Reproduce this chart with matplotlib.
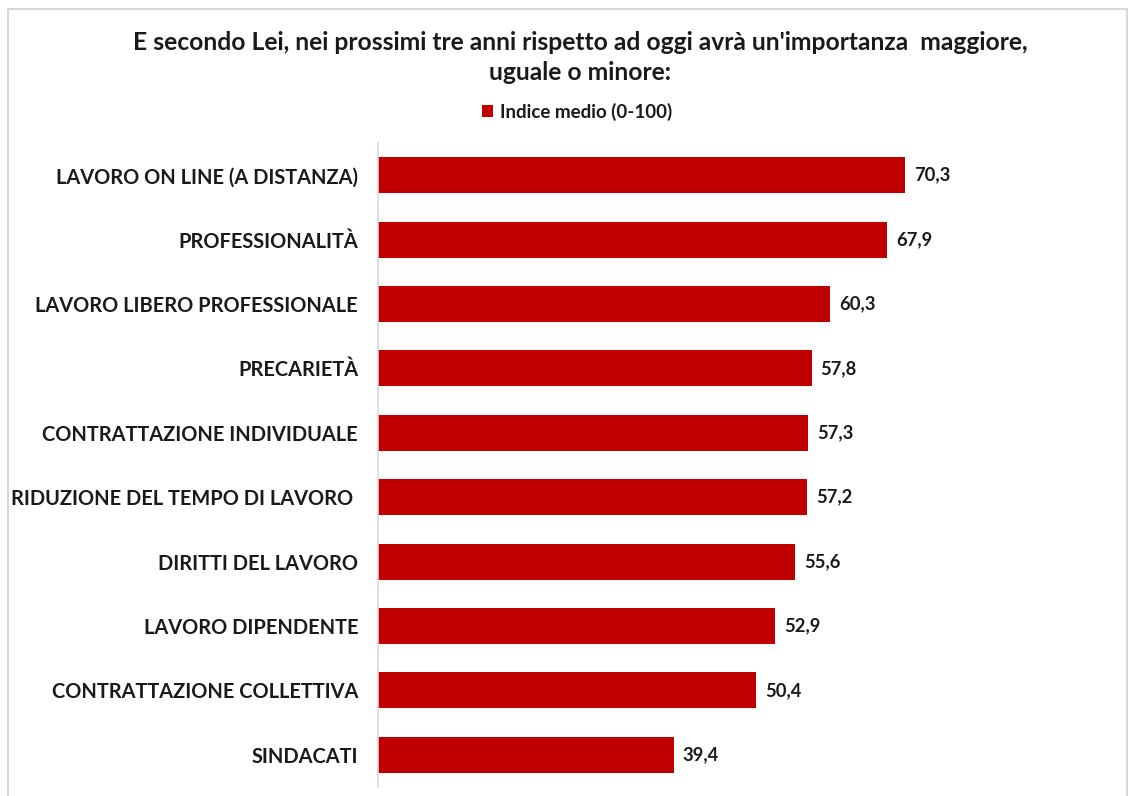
import matplotlib
matplotlib.use("Agg")
import matplotlib.pyplot as plt
from matplotlib.patches import Rectangle

# Categories, top to bottom as shown
categories = [
    "LAVORO ON LINE (A DISTANZA)",
    "PROFESSIONALITÀ",
    "LAVORO LIBERO PROFESSIONALE",
    "PRECARIETÀ",
    "CONTRATTAZIONE INDIVIDUALE",
    "RIDUZIONE DEL TEMPO DI LAVORO ",
    "DIRITTI DEL LAVORO",
    "LAVORO DIPENDENTE",
    "CONTRATTAZIONE COLLETTIVA",
    "SINDACATI",
]
indice_medio = [70.3, 67.9, 60.3, 57.8, 57.3, 57.2, 55.6, 52.9, 50.4, 39.4]

title = "E secondo Lei, nei prossimi tre anni rispetto ad oggi avrà un'importanza  maggiore,\nuguale o minore:"
legend_label = "Indice medio (0-100)"

bar_color = "#C00000"
text_color = "#1a1a1a"

plt.rcParams['font.family'] = ['Lato', 'DejaVu Sans']

fig = plt.figure(figsize=(11.31, 7.96), dpi=100)
W, H = 1131, 796

# thin frame around the chart area
fig.patches.append(Rectangle((8 / W, -0.05), (1127 - 8) / W, 1.05 - 9 / H,
                             transform=fig.transFigure, fill=False,
                             edgecolor="#d0d0d0", linewidth=1.2))

ax = fig.add_axes([378 / W, 1 - 787 / H, 744 / W, (787 - 143) / H])
pos = list(range(len(categories)))
bars = ax.barh(pos, indice_medio, height=0.56, color=bar_color, label=legend_label)
ax.set_ylim(len(categories) - 0.5, -0.5)
ax.set_xlim(0, 99.2)

for b, v in zip(bars, indice_medio):
    ax.text(b.get_width() + 1.2, b.get_y() + b.get_height() / 2,
            f"{v:.1f}".replace(".", ","), va="center", ha="left",
            fontsize=13.2, fontweight="bold", color=text_color)

ax.set_yticks(pos)
ax.set_yticklabels(categories, fontsize=14.4, fontweight="bold", color=text_color)
ax.tick_params(axis="y", length=0, pad=14.4)
ax.set_xticks([])
for s in ["top", "right", "bottom"]:
    ax.spines[s].set_visible(False)
ax.spines["left"].set_color("#d9d9d9")
ax.spines["left"].set_linewidth(1.2)

fig.text(580 / W, 1 - 57.5 / H, title, ha="center", va="center",
         fontsize=17.7, fontweight="bold", color=text_color, linespacing=1.42)

fig.legend(loc="center", bbox_to_anchor=(577 / W, 1 - 112 / H), frameon=False,
           handlelength=0.6, handleheight=0.6, handletextpad=0.4,
           prop={"family": "Lato", "weight": "bold", "size": 13.5})
for t in fig.legends[0].get_texts():
    t.set_color(text_color)

fig.savefig("out.png", dpi=100)
